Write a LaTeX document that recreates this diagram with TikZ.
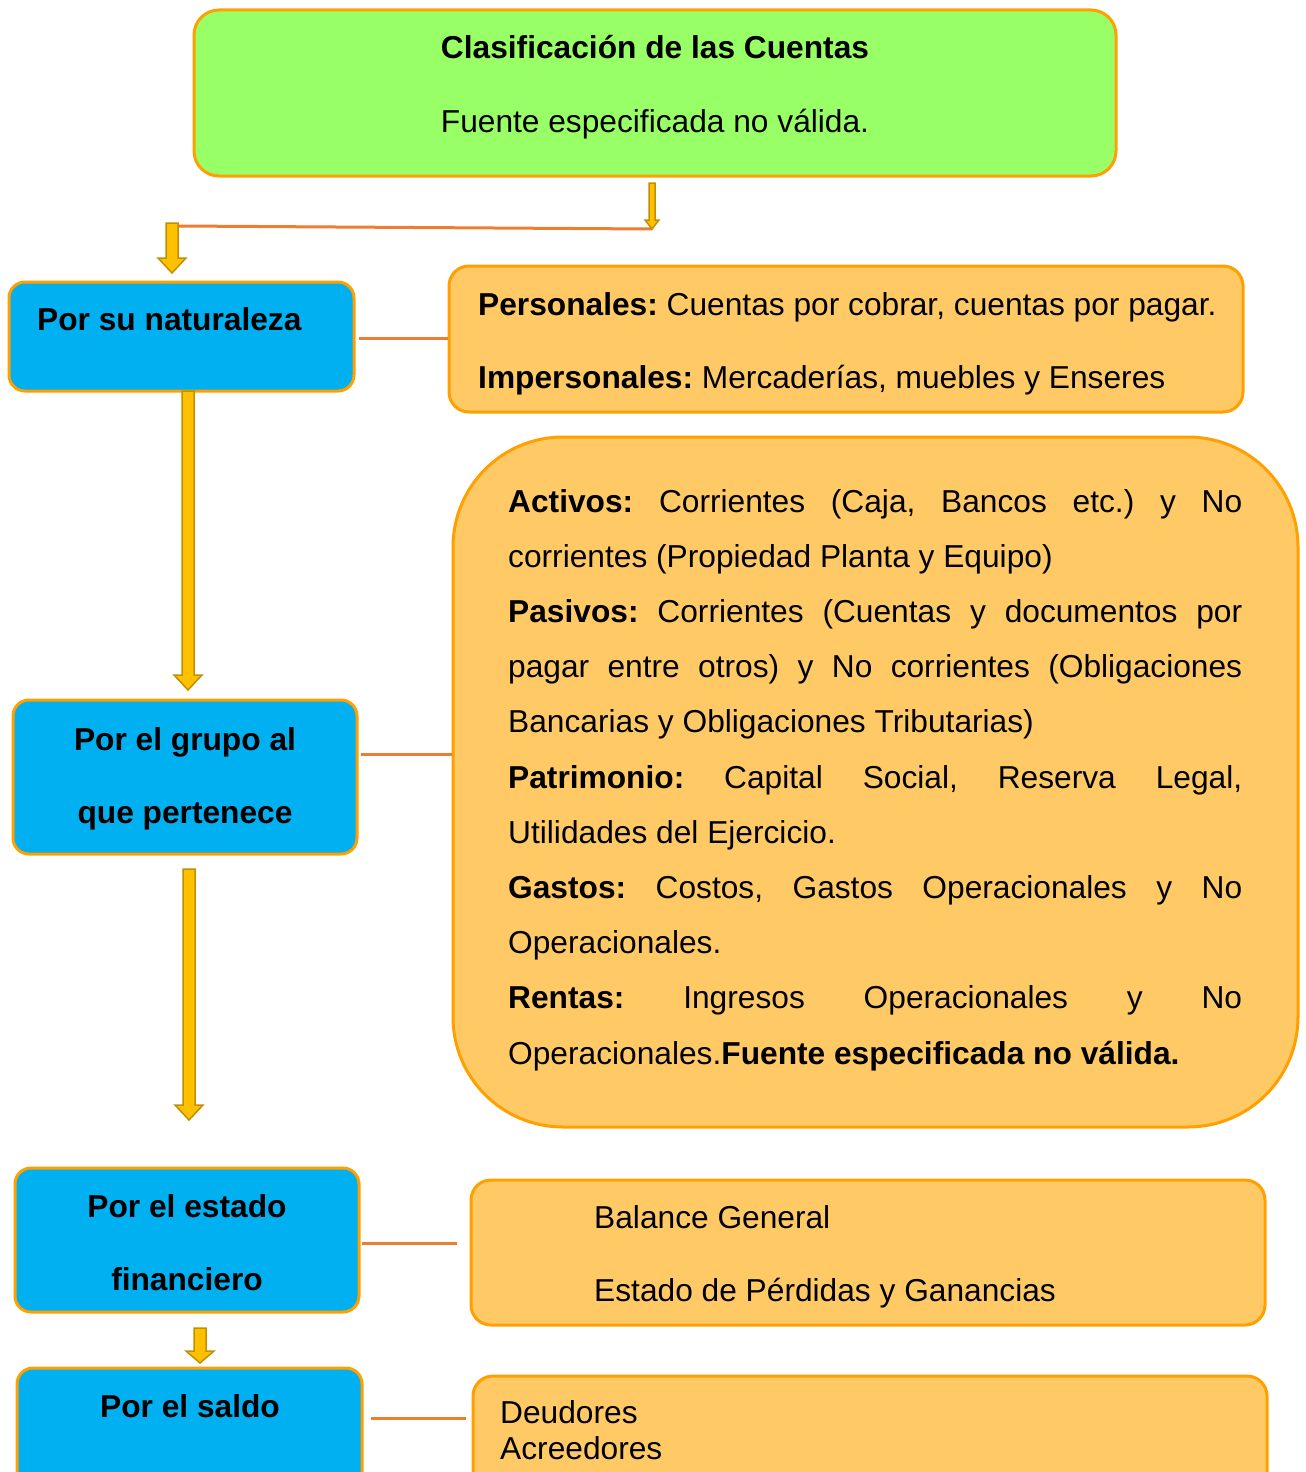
\documentclass[tikz,border=0pt]{standalone}
\usepackage{fontspec}
\setmainfont{Liberation Sans}
\frenchspacing
\definecolor{bordorange}{HTML}{FFA000}
\definecolor{greenfill}{HTML}{99FF66}
\definecolor{bluefill}{HTML}{00B0F0}
\definecolor{orfill}{HTML}{FFCA66}
\definecolor{linkor}{HTML}{ED7D31}
\definecolor{arrfill}{HTML}{FFC000}
\definecolor{arrdraw}{HTML}{BF9000}
\newcommand\blkarr[6]{%
  \draw[blk] (#1-#4,#2) -- (#1+#4,#2) -- (#1+#4,#3-#6) -- (#1+#5,#3-#6) -- (#1,#3)
    -- (#1-#5,#3-#6) -- (#1-#4,#3-#6) -- cycle;}
\begin{document}
\begin{tikzpicture}[x=1pt,y=-1pt,
  box/.style={draw=bordorange, line width=3pt, rectangle, inner sep=0pt},
  greenbox/.style={box, fill=greenfill, rounded corners=25pt},
  bluebox/.style={box, fill=bluefill, rounded corners=16pt},
  orbox/.style={box, fill=orfill, rounded corners=20pt},
  bigbox/.style={box, fill=orfill, rounded corners=110pt},
  txt/.style={font=\fontsize{31.7}{36}\selectfont\frenchspacing, inner sep=0pt},
  btxt/.style={txt, font=\fontsize{31.7}{36}\selectfont\bfseries},
  link/.style={draw=linkor, line width=3pt},
  blk/.style={fill=arrfill, draw=arrdraw, line width=1.5pt, line join=miter}]
\useasboundingbox (0,0) rectangle (1306,1472);
\clip (0,0) rectangle (1306,1472);

% boxes
\node[greenbox, minimum width=922pt, minimum height=166pt] (title) at (655,93) {};
\node[bluebox, minimum width=345pt, minimum height=109pt] (nat) at (181.5,336.5) {};
\node[orbox, minimum width=794pt, minimum height=146pt] (pers) at (846,339) {};
\node[bluebox, minimum width=344pt, minimum height=154pt] (grp) at (185,777) {};
\node[bigbox, minimum width=845pt, minimum height=690pt] (big) at (875.5,782) {};
\node[bluebox, minimum width=344pt, minimum height=144pt] (est) at (187,1240) {};
\node[orbox, minimum width=794pt, minimum height=145pt] (bal) at (868,1252.5) {};
\node[bluebox, minimum width=345pt, minimum height=160pt] (sal) at (189.5,1448) {};
\node[orbox, minimum width=794pt, minimum height=160pt] (deu) at (870,1456) {};

% texts
\node[btxt, anchor=base] (t1) at (655,59) {Clasificación de las Cuentas};
\node[txt, anchor=base] (t2) at (655,132) {Fuente especificada no válida.};
\node[btxt, anchor=base west] (n1) at (37,330) {Por su naturaleza};
\node[txt, anchor=base west] (p1) at (478,315) {\textbf{Personales:} Cuentas por cobrar, cuentas por pagar.};
\node[txt, anchor=base west] (p2) at (478,388) {\textbf{Impersonales:} Mercaderías, muebles y Enseres};
\node[btxt, anchor=base] (g1) at (185,750) {Por el grupo al};
\node[btxt, anchor=base] (g2) at (185,823) {que pertenece};
\node[inner sep=0pt, anchor=base west, text width=734pt, align=justify,
  font=\fontsize{31.7}{55.2}\selectfont\frenchspacing] (bt) at (508,512) {%
\setlength\parindent{0pt}\setlength\parskip{0pt}%
\textbf{Activos:} Corrientes (Caja, Bancos etc.) y No\linebreak corrientes (Propiedad Planta y Equipo)\par
\textbf{Pasivos:} Corrientes (Cuentas y documentos por\linebreak pagar entre otros) y No corrientes (Obligaciones\linebreak Bancarias y Obligaciones Tributarias)\par
\textbf{Patrimonio:} Capital Social, Reserva Legal,\linebreak Utilidades del Ejercicio.\par
\textbf{Gastos:} Costos, Gastos Operacionales y No\linebreak Operacionales.\par
\textbf{Rentas:} Ingresos Operacionales y No\linebreak Operacionales.\textbf{Fuente especificada no válida.}\par};
\node[btxt, anchor=base] (e1) at (187,1217) {Por el estado};
\node[btxt, anchor=base] (e2) at (187,1290) {financiero};
\node[txt, anchor=base west] (b1) at (594,1228) {Balance General};
\node[txt, anchor=base west] (b2) at (594,1301) {Estado de Pérdidas y Ganancias};
\node[btxt, anchor=base] (s1) at (190,1417) {Por el saldo};
\node[txt, anchor=base west] (d1) at (500,1423) {Deudores};
\node[txt, anchor=base west] (d2) at (500,1459) {Acreedores};

% connectors
\coordinate (c0a) at (178,226);
\coordinate (c0b) at (652,229);
\draw[link] (c0a) -- (c0b);
\coordinate (l1) at (0,338);
\draw[link] ([xshift=3pt]nat.east |- l1) -- (pers.west |- l1);
\coordinate (l2) at (0,754);
\draw[link] ([xshift=2pt]grp.east |- l2) -- (big.west |- l2);
\coordinate (l3a) at (362,1243);
\coordinate (l3b) at (457,1243);
\draw[link] (l3a) -- (l3b);
\coordinate (l4a) at (371,1418);
\coordinate (l4b) at (466,1418);
\draw[link] (l4a) -- (l4b);

% block arrows
\blkarr{652}{183}{229}{3}{7}{9}
\blkarr{172}{223}{273}{6}{14}{15}
\blkarr{188}{391}{690}{6}{14}{15}
\blkarr{189}{869}{1120}{6}{14}{15}
\blkarr{200}{1328}{1363}{6}{14}{12}
\end{tikzpicture}
\end{document}
